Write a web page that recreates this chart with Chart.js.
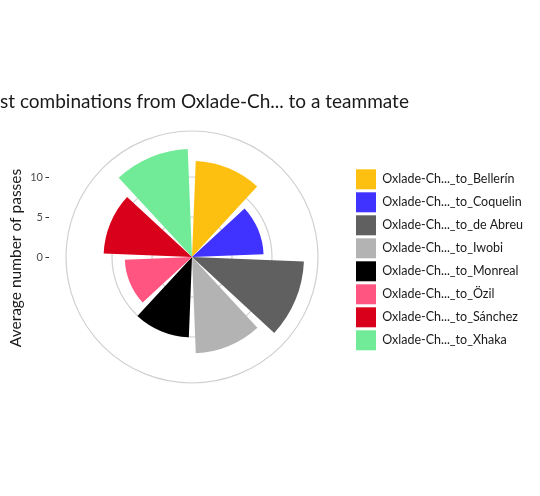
<!DOCTYPE html>
<html><head><meta charset="utf-8">
<script src="https://cdn.jsdelivr.net/npm/chart.js@4/dist/chart.umd.min.js"></script>
<style>html,body{margin:0;padding:0;background:#fff;}canvas{display:block;}</style>
</head><body>
<canvas id="c" width="540" height="496"></canvas>
<script>
const categories = ['Oxlade-Ch..._to_Bellerín','Oxlade-Ch..._to_Coquelin','Oxlade-Ch..._to_de Abreu','Oxlade-Ch..._to_Iwobi','Oxlade-Ch..._to_Monreal','Oxlade-Ch..._to_Özil','Oxlade-Ch..._to_Sánchez','Oxlade-Ch..._to_Xhaka'];
const passValues = [12.0, 8.95, 14.0, 12.05, 10.05, 8.4, 11.05, 13.5];
const colors = ['#FDC010','#4033FF','#606060','#B3B3B3','#000000','#FF5580','#D9001B','#72EB99'];
const yTicks = [0, 5, 10];
const gridValues = [0, 5, 10, 15.75];
const titleText = 'st combinations from Oxlade-Ch... to a teammate';
const yTitle = 'Average number of passes';

Chart.defaults.font.family = 'Lato';
const GAP = 2.25 * Math.PI / 180;
const LEGEND_FONT = 12.5;

// legend sizing
const mctx = document.createElement('canvas').getContext('2d');
mctx.font = LEGEND_FONT + 'px Lato';
const maxW = Math.max(...categories.map(t => mctx.measureText(t).width));
const legendW = 3 + 20 + LEGEND_FONT / 2 + maxW + 10;
const rightPad = Math.max(0, 540 - 353 - legendW);

const gapPlugin = {
  id: 'gaps',
  afterDatasetsUpdate(chart) {
    chart.getDatasetMeta(0).data.forEach(a => { a.startAngle += GAP; a.endAngle -= GAP; });
  }
};
const annot = {
  id: 'annot',
  afterDraw(chart) {
    const ctx = chart.ctx, r = chart.scales.r;
    ctx.save();
    ctx.fillStyle = '#1a1a1a';
    ctx.font = '19px Lato';
    ctx.textAlign = 'left'; ctx.textBaseline = 'alphabetic';
    ctx.fillText(titleText, 0, 108);
    ctx.font = '11px Lato';
    ctx.fillStyle = '#4d4d4d';
    ctx.textAlign = 'right'; ctx.textBaseline = 'middle';
    ctx.strokeStyle = '#333333'; ctx.lineWidth = 1;
    yTicks.forEach(v => {
      const y = r.yCenter - r.getDistanceFromCenterForValue(v);
      ctx.fillText(String(v), 43, y);
      ctx.beginPath(); ctx.moveTo(45.5, y + 0.5); ctx.lineTo(49, y + 0.5); ctx.stroke();
    });
    ctx.save();
    ctx.translate(16, r.yCenter + 1);
    ctx.rotate(-Math.PI / 2);
    ctx.fillStyle = '#1a1a1a';
    ctx.font = '15.5px Lato';
    ctx.textAlign = 'center'; ctx.textBaseline = 'middle';
    ctx.fillText(yTitle, 0, 0);
    ctx.restore();
    ctx.restore();
  }
};

new Chart(document.getElementById('c'), {
  type: 'polarArea',
  data: {
    labels: categories,
    datasets: [{ data: passValues, backgroundColor: colors, borderWidth: 0 }]
  },
  options: {
    responsive: false,
    animation: false,
    layout: { padding: { left: 31, top: 131, bottom: 113, right: rightPad } },
    scales: {
      r: {
        min: 0, max: 15.75,
        startAngle: 0,
        afterBuildTicks: (axis) => { axis.ticks = gridValues.map(v => ({ value: v })); },
        ticks: { display: false },
        grid: { color: '#d0d0d0', lineWidth: 1.2 },
        angleLines: { display: false }
      }
    },
    plugins: {
      tooltip: { enabled: false },
      legend: {
        position: 'right',
        title: { display: true, text: ' ', font: { size: 1, lineHeight: 1 }, padding: { top: 0, bottom: 4.6 } },
        labels: {
          boxWidth: 20, boxHeight: 20, padding: 3,
          font: { size: LEGEND_FONT, family: 'Lato' }, color: '#1a1a1a',
          generateLabels: () => categories.map((t, i) => ({ text: t, fillStyle: colors[i], strokeStyle: colors[i], lineWidth: 0, hidden: false, index: i, fontColor: '#1a1a1a' }))
        }
      }
    }
  },
  plugins: [gapPlugin, annot]
});
</script>
</body></html>
